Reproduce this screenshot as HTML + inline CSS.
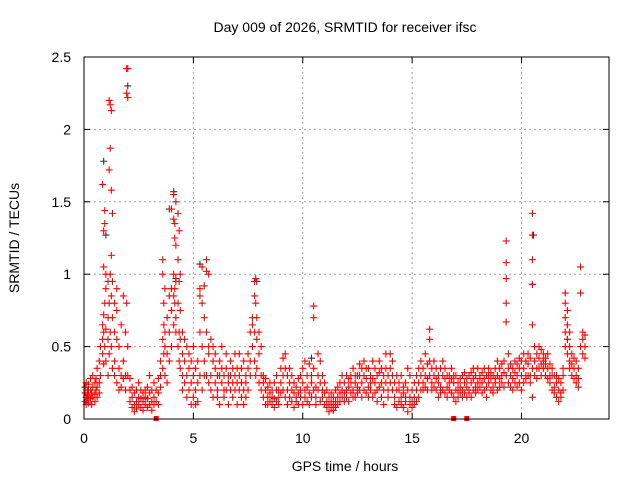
<!DOCTYPE html>
<html><head><meta charset="utf-8"><style>
html,body{margin:0;padding:0;background:#fff;}
svg{display:block;font-family:"Liberation Sans",sans-serif;}
</style></head><body>
<svg id="chart" width="640" height="480" viewBox="0 0 640 480">
<rect width="640" height="480" fill="#fff"/>
<text x="345" y="32" text-anchor="middle" font-size="14" fill="#000">Day 009 of 2026, SRMTID for receiver ifsc</text>
<text x="345" y="471" text-anchor="middle" font-size="14" fill="#000">GPS time / hours</text>
<text x="0" y="0" transform="translate(19,238) rotate(-90)" text-anchor="middle" font-size="14" fill="#000">SRMTID / TECUs</text>
<g id="grid"></g>
<g id="ticks"></g>
<g id="marks"></g>
<rect x="84" y="57" width="525" height="362" fill="none" stroke="#000" stroke-width="1"/>
</svg>
<script>
const xTicks = [0, 5, 10, 15, 20];
const yTicks = [0, 0.5, 1, 1.5, 2, 2.5];
const yTickLabels = ["0", "0.5", "1", "1.5", "2", "2.5"];
const redHours = [0.05,0.1,0.15,0.2,0.3,0.35,0.4,0.5,0.55,0.6,0.7,0.75,0.85,0.9,0.95,1.0,1.1,1.15,1.2,1.25,1.3,1.4,1.5,1.6,1.7,1.8,1.9,1.95,2.0,2.1,2.2,2.3,2.4,2.5,2.6,2.7,2.8,2.9,3.0,3.1,3.2,3.3,3.4,3.5,3.6,3.65,3.7,3.8,3.9,4.0,4.1,4.15,4.2,4.3,4.35,4.4,4.5,4.6,4.7,4.8,4.9,5.0,5.1,5.2,5.3,5.4,5.5,5.6,5.7,5.8,5.9,6.0,6.1,6.2,6.3,6.4,6.5,6.6,6.7,6.8,6.9,7.0,7.1,7.2,7.3,7.4,7.5,7.6,7.7,7.8,7.85,7.9,8.0,8.1,8.2,8.3,8.4,8.5,8.6,8.7,8.8,8.9,9.0,9.1,9.2,9.3,9.4,9.5,9.6,9.7,9.8,9.9,10.0,10.1,10.2,10.3,10.4,10.5,10.6,10.7,10.8,10.9,11.0,11.1,11.2,11.3,11.4,11.5,11.6,11.7,11.8,11.9,12.0,12.1,12.2,12.3,12.4,12.5,12.6,12.7,12.8,12.9,13.0,13.1,13.2,13.3,13.4,13.5,13.6,13.7,13.8,13.9,14.0,14.1,14.2,14.3,14.4,14.5,14.6,14.7,14.8,14.9,15.0,15.1,15.2,15.3,15.4,15.5,15.6,15.7,15.8,15.9,16.0,16.1,16.2,16.3,16.4,16.5,16.6,16.7,16.8,16.9,17.0,17.1,17.2,17.3,17.4,17.5,17.6,17.7,17.8,17.9,18.0,18.1,18.2,18.3,18.4,18.5,18.6,18.7,18.8,18.9,19.0,19.1,19.2,19.3,19.4,19.5,19.6,19.7,19.8,19.9,20.0,20.1,20.2,20.3,20.4,20.5,20.6,20.7,20.8,20.9,21.0,21.1,21.2,21.3,21.4,21.5,21.6,21.7,21.8,21.9,22.0,22.1,22.2,22.3,22.4,22.5,22.6,22.7,22.8,22.9];
const redValues = [
[.12,.18,.22],[.15,.1,.25],[.2,.13,.17],[.11,.24,.16],[.14,.2,.28],[.1,.18],[.22,.15,.3],[.17,.12,.25],[.2,.28],[.15,.22,.35],[.25,.18,.4],[.3,.5],
[.55,.65,.45,1.62],[.6,.72,.38,1.3,1.05],[.8,.5,1.44,1.35],[.62,.9,.4,1.0],[.7,.55,.95,.3],[.8,.45,2.2,1.72],[.6,1.0,2.17,1.87],[.5,.85,2.13,1.58,1.13],[.7,.35,1.42,.95],[.4,.6,.3,.8],[.55,.25,.75,.9],[.35,.2,.5],[.3,.22,.65],[.28,.4,.85],[.3,.2,.6],[2.42,2.25,.8],[2.42,2.22,.5,.3],
[.2,.12,.28],[.15,.08,.22],[.1,.18,.05],[.12,.2,.07],[.15,.1,.25],[.08,.14,.2],[.12,.06,.18],[.1,.15,.2],[.14,.08,.22],[.1,.18,.3],[.12,.2,.06],[.15,.25,.1],[.2,.12],[.18,.28,.1],[.22,.3,.4],
[.35,.55,1.1,1.0],[.45,.65,.8],[.3,.6,.5,.9],[.25,.45,.7],[.4,.85,.6],[.5,.9,1.45,.75],[.65,1.0,1.55,1.38,.85],[.9,1.35,1.25,.8],[.7,1.5,1.2,.95,.6],[.5,1.42,1.1,.8],[.6,1.3,.4,.95],[.35,.55,.75,1.0],
[.3,.45,.6,.2],[.25,.4,.55],[.3,.5,.15],[.2,.35,.45],[.25,.4,.1],[.15,.3,.5],[.1,.2,.35],[.12,.25,.4],[.3,.6,.9,.85],[.5,.8,1.05,.2],[.4,.7,.92,.3],[1.1,1.02,.6,.3],[.5,.45,.25,1.0],[.3,.55,.2],[.4,.5,.15],
[.35,.25,.45],[.2,.3,.15],[.4,.3,.1],[.25,.35,.5],[.15,.3,.2],[.35,.2,.45],[.25,.1,.3],[.4,.3,.2],[.15,.25,.35],[.3,.45,.2],[.1,.25,.35],[.3,.2,.45],[.15,.35,.25],[.2,.4,.1],[.3,.15,.25],[.2,.35,.45],[.4,.6,.3],[.7,.5,.65],[.95,.6,.4,.85],[.97,.8,.3],[.55,.7,.35],[.6,.45,.25],[.5,.3,.2],
[.3,.15,.25],[.2,.1,.28],[.15,.22,.1],[.18,.12,.25],[.2,.1,.15],[.14,.25,.08],[.2,.12,.3],[.1,.2,.15],[.25,.18,.35],[.3,.42,.2],[.15,.35,.45],[.2,.3,.1],[.25,.15,.35],[.12,.2,.3],[.08,.18,.25],[.15,.22,.12],[.1,.28,.18],[.2,.15,.3],
[.35,.1,.25],[.15,.4,.2],[.3,.12,.22],[.18,.38,.1],[.25,.15,.3],[.78,.7,.2,.35],[.1,.22,.15],[.3,.45,.2],[.4,.25,.12],[.15,.3,.2],
[.1,.25,.18],[.12,.2,.08],[.15,.05,.1],[.08,.12,.18],[.1,.15,.06],[.12,.2,.08],[.15,.1,.22],[.18,.12,.25],[.2,.15,.3],[.25,.12,.18],
[.2,.3,.15],[.22,.28,.12],[.3,.18,.25],[.2,.35,.15],[.25,.15,.3],[.18,.3,.22],[.3,.2,.38],[.25,.15,.35],[.2,.3,.4],[.28,.18,.35],
[.22,.35,.15],[.3,.2,.25],[.15,.28,.4],[.25,.35,.18],[.2,.3,.12],[.32,.22,.4],[.15,.25,.35],[.3,.2,.1],[.25,.35,.45],[.2,.3,.15],
[.45,.35,.25],[.3,.2,.4],[.15,.25,.1],[.2,.3,.08],[.12,.2,.25],[.1,.15,.3],[.08,.18,.22],[.25,.12,.15],[.05,.2,.35],[.1,.3,.15],
[.08,.2,.12],[.15,.25,.1],[.2,.3,.12],[.25,.15,.35],[.3,.2,.4],[.25,.35,.2],[.3,.45,.22],[.2,.38,.28],[.62,.55,.3,.4],[.25,.35,.2],
[.3,.22,.4],[.2,.28,.35],[.25,.15,.3],[.35,.22,.18],[.2,.3,.4],[.28,.18,.35],[.22,.3,.15],[.3,.2,.25],[.18,.28,.35],[.25,.15,.3],
[.2,.3,.12],[.15,.25,.2],[.28,.18,.22],[.2,.3,.15],[.25,.18,.32],[.15,.22,.28],[.2,.3,.18],[.25,.15,.32],[.2,.28,.35],[.3,.22,.18],
[.25,.35,.2],[.3,.22,.28],[.18,.32,.25],[.28,.2,.35],[.22,.3,.15],[.3,.25,.35],[.2,.28,.32],[.3,.22,.18],[.25,.35,.28],[.2,.3,.4],
[.28,.35,.22],[.3,.25,.38],[.22,.32,.4],[1.23,1.08,.97,.8,.67,.3],[.25,.35,.45],[.3,.22,.38],[.28,.35,.2],[.32,.25,.4],[.3,.38,.22],[.25,.35,.42],
[.3,.4,.2],[.35,.25,.45],[.3,.4,.28],[.38,.3,.45],[.3,.42,.25],[1.42,1.27,1.1,.93,.65,.15,.35],[.4,.3,.5],[.35,.45,.28],[.42,.5,.35],[.38,.48,.3],
[.45,.35,.4],[.3,.42,.38],[.35,.28,.45],[.25,.38,.3],[.3,.2,.35],[.22,.3,.18],[.15,.25,.3],[.2,.12,.28],[.15,.25,.18],[.3,.2,.35],
[.87,.8,.7,.6,.5],[.65,.55,.45,.75],[.5,.4,.6,.35],[.3,.45,.38],[.35,.28,.42],[.3,.25,.4],[.28,.35,.22],[1.05,.87,.5],[.55,.6,.45],[.5,.58,.42]
];
const blackHours = [0.05,0.2,0.9,1.0,2.0,3.9,4.1,4.2,5.3,7.9,10.4,20.5,20.55,22.1];
const blackValues = [0.22,0.2,1.78,1.27,2.3,1.45,1.57,0.97,1.07,0.95,0.42,0.93,1.27,0.55];
const squareHours = [3.3, 16.9, 17.5];
const squareValues = [0, 0, 0];

const X0 = 84, X1 = 609, Y0 = 419, Y1 = 57;
const xMax = 24, yMax = 2.5;
function xs(t){ return X0 + (t / xMax) * (X1 - X0); }
function ys(v){ return Y0 - (v / yMax) * (Y0 - Y1); }
const NS = "http://www.w3.org/2000/svg";
const grid = document.getElementById("grid");
const ticks = document.getElementById("ticks");
const marks = document.getElementById("marks");
function mk(tag, attrs, parent){
  const e = document.createElementNS(NS, tag);
  for (const k in attrs) e.setAttribute(k, attrs[k]);
  parent.appendChild(e);
  return e;
}
xTicks.forEach(function(t){
  const x = xs(t);
  if (t > 0) {
    const g = mk("line", {x1:x, x2:x, y1:Y1, y2:Y0, stroke:"#a0a0a0", "stroke-dasharray":"2,3"}, grid);
    
    
  }
  const a = mk("line", {x1:x, x2:x, y1:Y0, y2:Y0-6, stroke:"#000"}, ticks);
  
  
  const b = mk("line", {x1:x, x2:x, y1:Y1, y2:Y1+6, stroke:"#000"}, ticks);
  
  
  const l = mk("text", {x:x, y:443, "text-anchor":"middle", "font-size":"14", fill:"#000"}, ticks);
  l.textContent = String(t);
  
  
});
yTicks.forEach(function(v, i){
  const y = ys(v);
  if (v > 0 && v < yMax) {
    const g = mk("line", {x1:X0, x2:X1, y1:y, y2:y, stroke:"#a0a0a0", "stroke-dasharray":"2,3"}, grid);
    
    
  }
  const a = mk("line", {x1:X0, x2:X0+6, y1:y, y2:y, stroke:"#000"}, ticks);
  
  
  const b = mk("line", {x1:X1, x2:X1-6, y1:y, y2:y, stroke:"#000"}, ticks);
  
  
  const l = mk("text", {x:71, y:y+5, "text-anchor":"end", "font-size":"14", fill:"#000"}, ticks);
  l.textContent = yTickLabels[i];
  
  
});
function plus(t, v, color, name){
  const x = xs(t), y = ys(v);
  const p = mk("path", {d:"M"+(x-3.5)+" "+y+"H"+(x+3.5)+"M"+x+" "+(y-3.5)+"V"+(y+3.5), stroke:color, "stroke-width":"1.1", fill:"none"}, marks);
  
  
}
blackHours.forEach(function(t, i){ plus(t, blackValues[i], "#333", "black-point"); });
redHours.forEach(function(t, i){
  redValues[i].forEach(function(v){ plus(t, v, "#ff0000", "red-point"); });
});
squareHours.forEach(function(t, i){
  const s = mk("rect", {x:xs(t)-2.5, y:ys(squareValues[i])-3, width:5, height:5, fill:"#ff0000"}, marks);
  
  
});
</script>
</body></html>
